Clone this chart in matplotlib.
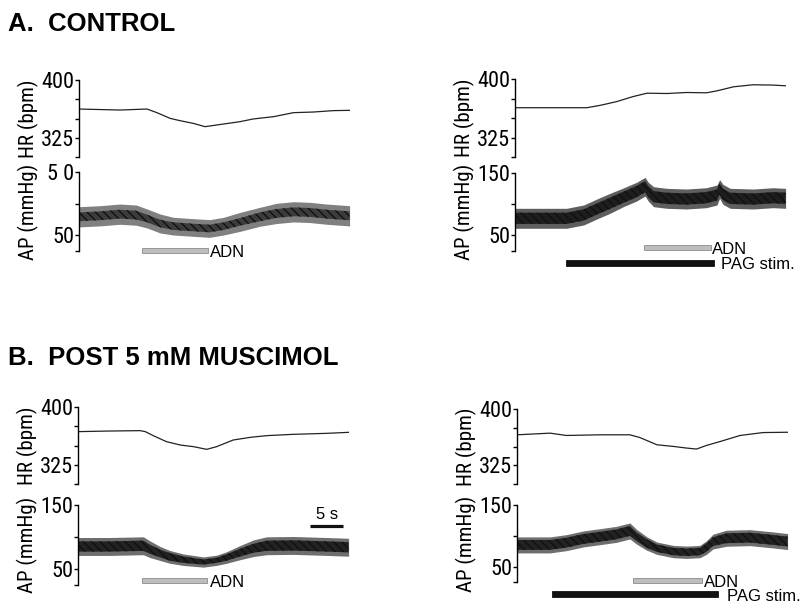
import matplotlib.pyplot as plt
from matplotlib import font_manager
from matplotlib.patches import Rectangle

W, H = 800, 609
PX_PER_S = 6.6
T_MAX = 41.0

# ---- A. control, left: ADN alone ----
a1_hr_t = [0, 6.2, 10.3, 11.8, 13.8, 15.3, 17.3, 19.1, 20.9, 24.4, 26.4, 29.5,
           32.5, 35.5, 38.5, 41]
a1_hr = [362.3, 361, 362.3, 357.6, 350.2, 347.2, 343.7, 339.4, 341.6, 345.9,
         349.4, 352.4, 357.6, 358.4, 360.2, 360.6]
a1_ap_t = [0, 3.2, 6.2, 8.7, 10.3, 12.3, 14.3, 17.3, 19.8, 21.9, 24.4, 27.4,
           29.9, 32.5, 35, 37.5, 41]
a1_ap = [79.1, 80.7, 83.3, 81.7, 76.5, 68.5, 64.3, 62.2, 60.6, 64.3, 71.1, 79.1,
         84.4, 87, 86, 83.3, 80.7]
a1_ap_outer = [16, 16, 16, 16, 15, 15, 14, 14, 14, 14, 15, 15, 16, 16, 16, 16, 16]
a1_ap_inner = [7, 7, 7, 7, 6, 6, 6, 6, 6, 6, 6, 7, 7, 7, 7, 7, 7]
a1_adn = (9.5, 19.6)

# ---- A. control, right: PAG stim + ADN ----
a2_hr_t = [0, 5.3, 10.9, 12.9, 15.4, 17.9, 20.0, 23.0, 26.0, 29.0, 30.6, 33.1,
           36.1, 39.1, 41]
a2_hr = [363.2, 363.2, 363.2, 366.2, 371, 377.5, 381.8, 381.4, 382.7, 382.3,
         384.8, 390, 392.6, 392.2, 391.3]
a2_ap_t = [0, 3.8, 7.8, 10.4, 12.4, 14.4, 16.4, 18.4, 19.7, 20.2, 21.0, 23.0,
           26.0, 29.0, 30.6, 31.0, 31.5, 32.6, 36.1, 39.1, 41]
a2_ap = [77.4, 77.4, 77.4, 82.7, 92.3, 101.4, 111, 120, 128, 120, 112, 109.4,
         108.3, 110.4, 114.7, 124.4, 115.8, 109.4, 108.3, 110.4, 109.4]
a2_ap_outer = [16, 16, 16, 16, 16, 16, 15, 15, 15, 15, 16, 16, 16, 16, 16, 15,
               16, 16, 16, 16, 16]
a2_ap_inner = [9, 9, 9, 9, 9, 9, 9, 9, 9, 9, 9, 9, 9, 9, 9, 9, 9, 9, 9, 9, 9]
a2_adn = (19.5, 29.7)
a2_pag = (7.7, 30.2)

# ---- B. post muscimol, left: ADN alone ----
b1_hr_t = [0, 4.8, 9.4, 10.2, 11.4, 13.4, 15.5, 17.5, 19.5, 21.0, 23.5, 26.1,
           28.6, 32.6, 37.7, 41]
b1_hr = [368, 368.8, 369.3, 368, 362.8, 355, 350.6, 348.5, 345, 348.5, 357.1,
         360.6, 362.8, 364.5, 365.8, 367.1]
b1_ap_t = [0, 4.8, 9.9, 10.9, 12.4, 13.9, 15.9, 19.0, 21.0, 22.5, 24.5, 26.6,
           28.6, 32.6, 37.7, 41]
b1_ap = [85.2, 85.2, 86.3, 80.9, 74.4, 69, 64.6, 60.9, 63.6, 67.9, 75.4, 82.5,
         86.3, 86.8, 85.2, 84]
b1_ap_outer = [14, 14, 14, 13, 11, 10, 9, 8, 8, 9, 11, 13, 14, 14, 14, 14]
b1_ap_inner = [8, 8, 8, 7, 6, 6, 5, 4, 4, 5, 6, 7, 8, 8, 8, 8]
b1_adn = (9.65, 19.5)
scale_bar = (35.2, 40.2)

# ---- B. post muscimol, right: PAG stim + ADN ----
b2_hr_t = [0, 5.0, 7.5, 12.6, 17.1, 18.6, 21.2, 23.7, 25.7, 27.2, 28.7, 30.8,
           33.8, 37.3, 41]
b2_hr = [365.6, 367.8, 364.7, 365.6, 365.6, 362, 352.3, 350.1, 347.9, 346.6,
         351.4, 356.7, 364.7, 368.6, 369]
b2_ap_t = [0, 5.0, 7.5, 10.05, 12.6, 15.1, 17.1, 18.1, 19.6, 21.2, 23.7, 25.7,
           27.7, 28.7, 29.7, 31.7, 35.3, 38.8, 41]
b2_ap = [85.2, 85.2, 88.9, 94.9, 98.6, 102.4, 107.9, 98.6, 87.9, 79.8, 74.4,
         73.3, 74.4, 80.9, 90.6, 96, 97, 93.3, 90.6]
b2_ap_outer = [13, 13, 13, 13, 13, 13, 13, 12, 11, 10, 10, 10, 10, 11, 12, 13,
               13, 13, 13]
b2_ap_inner = [8, 8, 8, 8, 8, 8, 8, 7, 7, 6, 6, 6, 6, 7, 7, 8, 8, 8, 8]
b2_adn = (17.5, 28.0)
b2_pag = (5.3, 30.5)

hr_ticks = [300, 325, 350, 375, 400]
hr_ticklabels = ["", "325", "", "", "400"]
ap_ticks = [25, 50, 100, 150]
ap_ticklabels_a1 = ["", "50", "", "5 0"]
ap_ticklabels = ["", "50", "", "150"]

_names = {f.name for f in font_manager.fontManager.ttflist}
NARROW = next((n for n in ["Liberation Sans Narrow", "Arial Narrow", "Roboto Condensed"]
               if n in _names), "Liberation Sans")
SANS = "Liberation Sans"

fig = plt.figure(figsize=(W / 100, H / 100), dpi=100)


def px_axes(x0, top, bottom):
    width = T_MAX * PX_PER_S
    return fig.add_axes([x0 / W, 1 - bottom / H, width / W, (bottom - top) / H])


def style_axis(ax, ticks, labels, ylim, label):
    ax.set_xlim(0, T_MAX)
    ax.set_ylim(*ylim)
    for s in ("top", "right", "bottom"):
        ax.spines[s].set_visible(False)
    ax.spines["left"].set_linewidth(1.0)
    ax.set_xticks([])
    ax.set_yticks(ticks)
    ax.set_yticklabels(labels, fontfamily=NARROW, fontsize=16, fontstretch="condensed")
    ax.tick_params(axis="y", direction="out", length=3, width=1.0, pad=0.5)
    ax.set_ylabel(label, fontfamily=NARROW, fontsize=15, fontstretch="condensed")
    ax.yaxis.set_label_coords(-40 / (T_MAX * PX_PER_S), 0.5)
    ax.patch.set_visible(False)


def draw_panel(x0, hr_box, ap_box, hr_t, hr_v, ap_t, ap_v, outer, inner,
               ap_labels, c_outer, c_inner):
    ax_hr = px_axes(x0, *hr_box)
    ax_hr.plot(hr_t, hr_v, color="#222222", lw=0.9)
    style_axis(ax_hr, hr_ticks, hr_ticklabels, (300, 400), "HR (bpm)")

    ax_ap = px_axes(x0, *ap_box)
    lo = [m - o for m, o in zip(ap_v, outer)]
    hi = [m + o for m, o in zip(ap_v, outer)]
    ax_ap.fill_between(ap_t, lo, hi, color=c_outer, lw=0)
    lo_i = [m - o for m, o in zip(ap_v, inner)]
    hi_i = [m + o for m, o in zip(ap_v, inner)]
    ax_ap.fill_between(ap_t, lo_i, hi_i, facecolor=c_inner, edgecolor="#111111",
                       hatch="\\\\\\\\", lw=0)
    style_axis(ax_ap, ap_ticks, ap_labels, (25, 150), "AP (mmHg)")
    return ax_ap, ap_box


def to_frac(box, y_px):
    top, bottom = box
    return (bottom - y_px) / (bottom - top)


def event_bar(ax, box, span, y_px, h_px, face, edge, label, dx):
    t0, t1 = span
    y = to_frac(box, y_px + h_px / 2)
    h = h_px / (box[1] - box[0])
    ax.add_patch(Rectangle((t0, y), t1 - t0, h, transform=ax.get_xaxis_transform(),
                           facecolor=face, edgecolor=edge, lw=0.6, clip_on=False))
    ax.annotate(label, xy=(t1, y + h / 2), xycoords=ax.get_xaxis_transform(),
                xytext=(dx, -1.5), textcoords="offset points", va="center", ha="left",
                fontfamily=SANS, fontsize=12, annotation_clip=False)


GREY_FACE, GREY_EDGE = "#bdbdbd", "#8c8c8c"

ax, box = draw_panel(79, (80, 157), (172, 251), a1_hr_t, a1_hr, a1_ap_t, a1_ap,
                     a1_ap_outer, a1_ap_inner, ap_ticklabels_a1, "#808080", "#3c3c3c")
event_bar(ax, box, a1_adn, 250, 5, GREY_FACE, GREY_EDGE, "ADN", 1.5)

ax, box = draw_panel(515, (79, 157), (173, 251), a2_hr_t, a2_hr, a2_ap_t, a2_ap,
                     a2_ap_outer, a2_ap_inner, ap_ticklabels, "#5e5e5e", "#1e1e1e")
event_bar(ax, box, a2_adn, 247.7, 5, GREY_FACE, GREY_EDGE, "ADN", 1)
event_bar(ax, box, a2_pag, 262.7, 6, "#111111", "#111111", "PAG stim.", 5)

ax, box = draw_panel(78, (407, 484), (505, 585), b1_hr_t, b1_hr, b1_ap_t, b1_ap,
                     b1_ap_outer, b1_ap_inner, ap_ticklabels, "#6e6e6e", "#222222")
event_bar(ax, box, b1_adn, 580, 5, GREY_FACE, GREY_EDGE, "ADN", 2)
ysb = to_frac(box, 525.7)
ax.plot(scale_bar, [ysb, ysb], transform=ax.get_xaxis_transform(), color="#111111",
        lw=2.3, solid_capstyle="butt", clip_on=False)
ax.annotate("5 s", xy=(sum(scale_bar) / 2, ysb), xycoords=ax.get_xaxis_transform(),
            xytext=(0, 3), textcoords="offset points", ha="center", va="bottom",
            fontfamily=SANS, fontsize=12)

ax, box = draw_panel(517, (409, 484), (505, 582), b2_hr_t, b2_hr, b2_ap_t, b2_ap,
                     b2_ap_outer, b2_ap_inner, ap_ticklabels, "#6e6e6e", "#222222")
event_bar(ax, box, b2_adn, 580, 5, GREY_FACE, GREY_EDGE, "ADN", 1.5)
event_bar(ax, box, b2_pag, 594.3, 6, "#111111", "#111111", "PAG stim.", 6)

fig.text(8 / W, 1 - 31 / H, "A.  CONTROL", fontfamily=SANS, fontweight="bold",
         fontsize=18.5, ha="left", va="baseline")
fig.text(8 / W, 1 - 365 / H, "B.  POST 5 mM MUSCIMOL", fontfamily=SANS,
         fontweight="bold", fontsize=18.5, ha="left", va="baseline")

fig.savefig("out.png", dpi=100)
